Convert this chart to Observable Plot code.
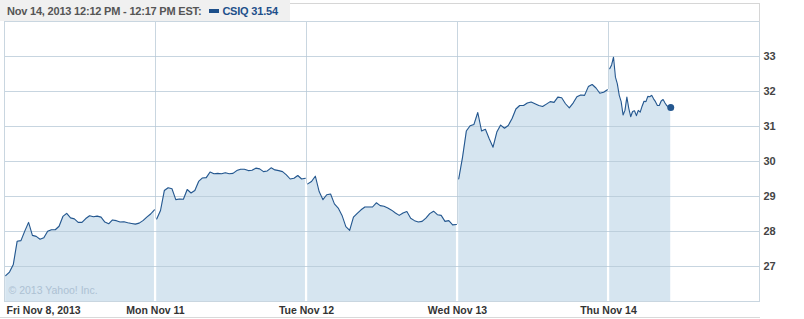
<!DOCTYPE html>
<html>
<head>
<meta charset="utf-8">
<script src="https://cdn.jsdelivr.net/npm/d3@7"></script>
<script src="https://cdn.jsdelivr.net/npm/@observablehq/plot@0.6"></script>
<style>
  html, body { margin: 0; padding: 0; background: #fff; }
  #wrap { position: relative; width: 804px; height: 319px; overflow: hidden; font-family: "Liberation Sans", Arial, sans-serif; }
  #header { position: relative; height: 20px; }
  #hbg { position: absolute; left: 0; top: 0; width: 290px; height: 21px; background: #f0f0f0; }
  #hbox { position: absolute; left: 290px; top: 3px; width: 469px; height: 18px; border-top: 1px solid #d6d6d6; border-right: 1px solid #d6d6d6; }
  #htext { position: absolute; left: 7px; top: 5px; font-size: 11px; font-weight: bold; color: #555; white-space: nowrap; line-height: 13px; letter-spacing: -0.2px; }
  #htext .sym { color: #1d4f8a; }
  #htext .key { display: inline-block; width: 10px; height: 4px; background: #1d4f8a; margin: 0 3px 2px 8px; vertical-align: middle; }
  #bottomline { width: 760px; border-top: 1px solid #d9d9d9; }
</style>
</head>
<body>
<div id="wrap">
  <div id="header">
    <div id="hbg"></div>
    <div id="hbox"></div>
    <div id="htext"><span id="range"></span><span class="key"></span><span class="sym" id="sym"></span></div>
  </div>
  <div id="chart"></div>
  <div id="bottomline"></div>
</div>
<script>
// ---- data (CSIQ intraday, Nov 8 - Nov 14, 2013) ----
const headerRange = "Nov 14, 2013 12:12 PM - 12:17 PM EST:";
const symbol = "CSIQ";
const lastPrice = 31.54;
const dayLabels = ["Fri Nov 8, 2013", "Mon Nov 11", "Tue Nov 12", "Wed Nov 13", "Thu Nov 14"];
const yTicks = [27, 28, 29, 30, 31, 32, 33];
const copyright = "\u00a9 2013 Yahoo! Inc.";
const sessionMinutes = 390;

// 10-minute samples from 9:30
const fri = [26.74, 26.84, 27.06, 27.72, 27.74, 28.01, 28.26, 27.89, 27.86, 27.78, 27.82, 28.01, 28.05, 28.05, 28.15, 28.43, 28.52, 28.39, 28.36, 28.26, 28.26, 28.37, 28.45, 28.42, 28.44, 28.41, 28.27, 28.22, 28.33, 28.31, 28.27, 28.28, 28.25, 28.23, 28.21, 28.24, 28.31, 28.41, 28.50, 28.62];
const mon = [28.36, 28.60, 29.17, 29.25, 29.22, 28.91, 28.93, 28.92, 29.20, 29.10, 29.17, 29.43, 29.53, 29.54, 29.70, 29.65, 29.66, 29.65, 29.68, 29.65, 29.66, 29.74, 29.78, 29.78, 29.74, 29.75, 29.81, 29.79, 29.71, 29.73, 29.82, 29.76, 29.74, 29.71, 29.62, 29.50, 29.52, 29.60, 29.50, 29.52];
const tue = [29.36, 29.43, 29.58, 29.14, 28.91, 29.05, 29.07, 28.79, 28.67, 28.46, 28.14, 28.03, 28.41, 28.52, 28.62, 28.70, 28.70, 28.70, 28.82, 28.74, 28.72, 28.67, 28.61, 28.53, 28.46, 28.53, 28.57, 28.38, 28.31, 28.27, 28.29, 28.38, 28.51, 28.58, 28.48, 28.46, 28.29, 28.31, 28.19, 28.20];
const wed = [29.50, 30.12, 30.87, 31.02, 31.06, 31.40, 30.87, 30.92, 30.65, 30.41, 30.84, 31.04, 30.95, 31.03, 31.23, 31.50, 31.60, 31.60, 31.67, 31.70, 31.65, 31.60, 31.57, 31.64, 31.71, 31.69, 31.84, 31.82, 31.65, 31.53, 31.67, 31.85, 31.90, 31.89, 32.14, 32.20, 32.10, 31.95, 31.98, 32.05];
// 5-minute samples from 9:30 to 12:12
const thu = [32.65, 32.76, 32.98, 32.41, 32.22, 31.89, 31.71, 31.33, 31.46, 31.84, 31.52, 31.28, 31.43, 31.45, 31.31, 31.46, 31.41, 31.58, 31.72, 31.71, 31.86, 31.85, 31.89, 31.79, 31.71, 31.60, 31.60, 31.73, 31.77, 31.67, 31.59, 31.56, 31.54];

const days = [
  {values: fri, step: 10},
  {values: mon, step: 10},
  {values: tue, step: 10},
  {values: wed, step: 10},
  {values: thu, step: 5}
];

// ---- build rows ----
const rows = [];
days.forEach((d, di) => {
  d.values.forEach((v, i) => {
    rows.push({day: di, x: di + 0.008 + (i * d.step / sessionMinutes) * 0.985, v});
  });
});
const last = rows[rows.length - 1];
const boundaries = [1, 2, 3, 4].map(b => ({
  x: b,
  top: Math.min(days[b - 1].values[days[b - 1].values.length - 1], days[b].values[0])
}));
const labelRows = dayLabels.map((t, i) => ({x: i, t}));

document.getElementById("range").textContent = headerRange;
document.getElementById("sym").textContent = symbol + " " + lastPrice.toFixed(2);

const lineColor = "#24578f";
const fillColor = "#d6e5f0";
const gridColor = "#c9d6e0";
const labelStyle = {frameAnchor: "bottom", dy: 9, text: "t", lineAnchor: "middle", fontSize: 10.5, fontWeight: "bold", fill: "#333"};

const chart = Plot.plot({
  width: 804,
  height: 297,
  marginLeft: 4,
  marginRight: 45,
  marginTop: 1,
  marginBottom: 16,
  style: {fontFamily: "'Liberation Sans', Arial, sans-serif", background: "transparent"},
  x: {domain: [0, 5], axis: null},
  y: {domain: [26, 34], axis: null},
  marks: [
    Plot.ruleX([1, 2, 3, 4], {stroke: gridColor}),
    Plot.areaY(rows, {x: "x", y1: 26, y2: "v", z: "day", fill: fillColor, curve: "linear"}),
    Plot.ruleX(boundaries, {x: "x", y1: 26, y2: "top", stroke: "#ffffff"}),
    Plot.ruleY(yTicks, {stroke: "#b4c7d6", strokeOpacity: 0.75}),
    Plot.frame({stroke: gridColor}),
    Plot.axisY(yTicks, {anchor: "right", tickSize: 0, tickPadding: 4, fontSize: 11, fontWeight: "bold", fill: "#444", tickFormat: d => String(d)}),
    Plot.text([copyright], {frameAnchor: "bottom-left", dx: 4, dy: -8, textAnchor: "start", fill: "#adc1d3", fontSize: 10.5}),
    Plot.lineY(rows, {x: "x", y: "v", z: "day", stroke: lineColor, strokeWidth: 1.1}),
    Plot.dot([last], {x: "x", y: "v", r: 3.5, fill: lineColor, stroke: null}),
    Plot.text(labelRows.filter(d => d.x === 0), {...labelStyle, x: "x", textAnchor: "start", dx: 2}),
    Plot.text(labelRows.filter(d => d.x > 0), {...labelStyle, x: "x", textAnchor: "middle"}),
  ]
});
document.getElementById("chart").appendChild(chart);
</script>
</body>
</html>
